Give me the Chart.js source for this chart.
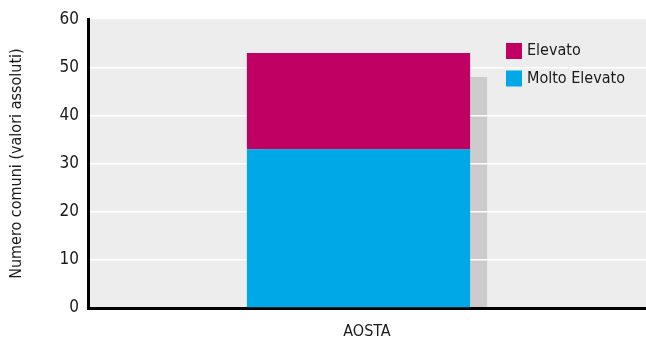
<!DOCTYPE html>
<html>
<head>
<meta charset="utf-8">
<script src="https://cdn.jsdelivr.net/npm/chart.js@4.4.1/dist/chart.umd.min.js"></script>
<style>
  html, body { margin: 0; padding: 0; background: #ffffff; }
  #wrap { width: 646px; height: 350px; }
</style>
</head>
<body>
<div id="wrap"><canvas id="c" width="646" height="350"></canvas></div>
<script>
// Province shown on the x axis
const categories = ['AOSTA'];
// Number of municipalities per risk class (stacked)
const moltoElevato = [33];
const elevato = [20];
// Y axis tick range
const yMin = 0, yMax = 60, yStep = 10;

const FONT = "'DejaVu Sans Condensed', 'DejaVu Sans', sans-serif";
const SHADOW_DX = 17, SHADOW_DY = 24;

// Light grey plot background plus an offset drop shadow behind the stacked bar
const backdrop = {
  id: 'backdrop',
  afterDatasetsUpdate(chart) {
    // shift bars left so bar + shadow sit centred in the category
    chart.data.datasets.forEach((ds, i) => {
      chart.getDatasetMeta(i).data.forEach(el => { el.x -= SHADOW_DX / 2; });
    });
  },
  beforeDraw(chart) {
    const { ctx, chartArea: a } = chart;
    ctx.save();
    ctx.fillStyle = '#ededed';
    ctx.fillRect(a.left, a.top, a.right - a.left, a.bottom - a.top);
    ctx.beginPath();
    ctx.rect(a.left, a.top, a.right - a.left, a.bottom - a.top);
    ctx.clip();
    ctx.fillStyle = '#cccccc';
    const n = chart.data.labels.length;
    for (let j = 0; j < n; j++) {
      let top = Infinity, left = 0, right = 0;
      chart.data.datasets.forEach((ds, i) => {
        const el = chart.getDatasetMeta(i).data[j];
        if (!el) return;
        const p = el.getProps(['x', 'y', 'width'], true);
        top = Math.min(top, p.y);
        left = p.x - p.width / 2; right = p.x + p.width / 2;
      });
      ctx.fillRect(left + SHADOW_DX, top + SHADOW_DY, right - left, a.bottom - top);
    }
    ctx.restore();
  },
  afterDraw(chart) {
    // legend inside the plot, top series listed first
    const { ctx } = chart;
    const items = chart.data.datasets.slice().reverse();
    ctx.save();
    ctx.font = '16px ' + FONT;
    ctx.textBaseline = 'middle';
    items.forEach((ds, k) => {
      const y = 43 + k * 27.5;
      ctx.fillStyle = ds.backgroundColor;
      ctx.fillRect(506, y, 16, 16);
      ctx.fillStyle = '#1a1a1a';
      ctx.fillText(ds.label, 527, y + 8);
    });
    ctx.restore();
  }
};

new Chart(document.getElementById('c'), {
  type: 'bar',
  data: {
    labels: categories,
    datasets: [
      { label: 'Molto Elevato', data: moltoElevato, backgroundColor: '#00a8e8' },
      { label: 'Elevato', data: elevato, backgroundColor: '#c00062' }
    ]
  },
  options: {
    responsive: false,
    animation: false,
    layout: { padding: { top: 18, right: 0, left: 0, bottom: 0 } },
    plugins: { legend: { display: false }, tooltip: { enabled: false } },
    datasets: { bar: { categoryPercentage: 1, barPercentage: 0.4 } },
    scales: {
      x: {
        stacked: true,
        grid: { display: false, drawTicks: false },
        border: { display: true, color: '#000000', width: 3 },
        ticks: { color: '#1a1a1a', font: { family: FONT, size: 16 }, padding: 14 },
        afterFit(s) { s.height = 42; }
      },
      y: {
        stacked: true,
        min: yMin, max: yMax,
        ticks: { stepSize: yStep, color: '#1a1a1a', font: { family: FONT, size: 17 }, padding: 9 },
        grid: {
          drawTicks: false,
          color: (c) => (c.tick && c.tick.value > yMin && c.tick.value < yMax) ? '#ffffff' : 'rgba(0,0,0,0)',
          lineWidth: 1.5
        },
        border: { display: true, color: '#000000', width: 3 },
        title: {
          display: true,
          text: 'Numero comuni (valori assoluti)',
          color: '#1a1a1a',
          font: { family: FONT, size: 16 },
          padding: { top: 7, bottom: 0 }
        },
        afterFit(s) { s.width = 88; }
      }
    }
  },
  plugins: [backdrop]
});
</script>
</body>
</html>
